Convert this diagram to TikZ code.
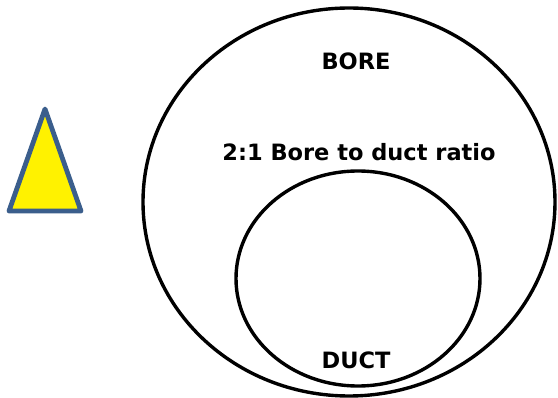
\documentclass[tikz,border=0pt]{standalone}
\usepackage{fontspec}
\setmainfont{DejaVu Sans}
\usetikzlibrary{shapes.geometric}
\begin{document}
\begin{tikzpicture}[x=1pt,y=-1pt,
  ring/.style={draw=black,line width=3.4pt,ellipse,inner sep=0pt},
  lbl/.style={font=\bfseries\fontsize{22.5}{26}\selectfont,anchor=base,inner sep=0pt},
  warn/.style={draw={rgb,255:red,59;green,94;blue,140},line width=4.8pt,fill=yellow,line join=round}]
\useasboundingbox (0,0) rectangle (558,398);
\node[ring,minimum width=412pt,minimum height=388pt] (bore) at (349,202) {};
\node[ring,minimum width=244pt,minimum height=215pt] (duct) at (358,278.5) {};
\node[lbl] (boretxt) at (356,70) {BORE};
\node[lbl] (ratio) at (359,161) {2:1 Bore to duct ratio};
\node[lbl] (ducttxt) at (356,369) {DUCT};
\draw[warn] (45,109) -- (81,211) -- (9,211) -- cycle;
\end{tikzpicture}
\end{document}
